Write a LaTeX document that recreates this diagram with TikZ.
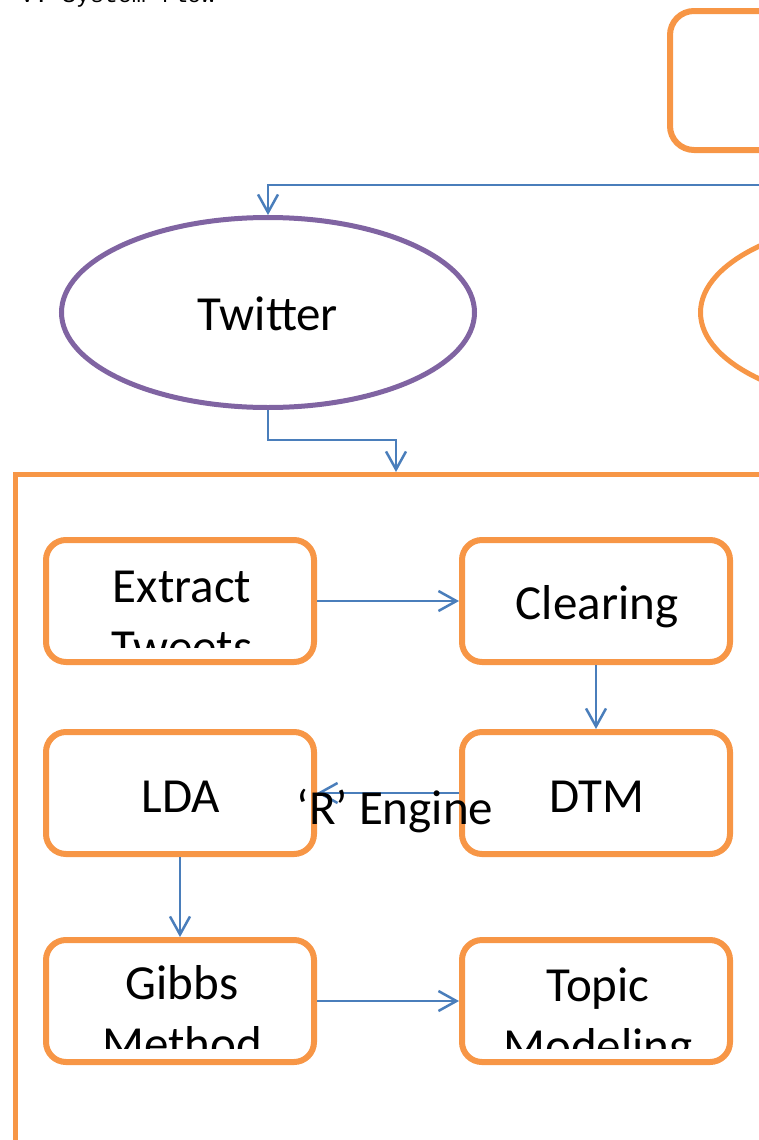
\documentclass[tikz,border=0pt]{standalone}
\usepackage{fontspec}
\setmainfont{Carlito}
\newfontfamily\monofont{Liberation Mono}
\usetikzlibrary{positioning,shapes.geometric,arrows.meta}
\definecolor{boxorange}{HTML}{F79646}
\definecolor{twpurple}{HTML}{8064A2}
\definecolor{linkblue}{HTML}{4A7EBB}

\begin{document}
\begin{tikzpicture}[x=0.5pt,y=-0.5pt]
		\tikzstyle{every node}+=[inner sep=0pt]
		\tikzstyle{stepbox}=[draw=boxorange, line width=3pt, rounded corners=10pt, minimum width=134pt, minimum height=61pt]
		\tikzstyle{boxtext}=[anchor=base, font=\fontsize{24.5}{29}\selectfont]
		\tikzstyle{flowline}=[draw=linkblue, line width=1.25pt, -{Straight Barb[length=9pt,width=10pt]}]
		\useasboundingbox (0,0) rectangle (759,1140);
		\node[anchor=base west, font=\monofont\fontsize{11.6}{14}\selectfont] (title) at (20,2.5) {V. System flow};
		\node[draw=boxorange, line width=3pt, rounded corners=12pt, minimum width=237pt, minimum height=69.5pt] (source) at (907,80.5) {};
		\node[ellipse, draw=twpurple, line width=2.5pt, minimum width=206.5pt, minimum height=95pt] (twitter) at (268,312.5) {};
		\node[ellipse, draw=boxorange, line width=2.5pt, minimum width=206.5pt, minimum height=95pt] (other) at (907,312.5) {};
		\node[draw=boxorange, line width=2.5pt, minimum width=380.5pt, minimum height=337.5pt] (engine) at (396,812) {};
		\node[stepbox] (extract) at (180,601) {};
		\node[stepbox] (clearing) at (596,601) {};
		\node[stepbox] (lda) at (180,793) {};
		\node[stepbox] (dtm) at (596,793) {};
		\node[stepbox] (gibbs) at (180,1001) {};
		\node[stepbox] (topic) at (596,1001) {};
		\draw[flowline] (source.south) -- (source.south |- 0,185) -| (twitter.north);
		\draw[flowline] (twitter.south) -- ++(0,30) -| (engine.north);
		\draw[flowline] (extract.east) -- (clearing.west);
		\draw[flowline] (clearing.south) -- (dtm.north);
		\draw[flowline] (dtm.west) -- (lda.east);
		\draw[flowline] (lda.south) -- (gibbs.north);
		\draw[flowline] (gibbs.east) -- (topic.west);
		\node[boxtext] (twittertxt) at (268,330) {Twitter};
		\node[boxtext] (extracttxt) at (182,602) {Extract};
		\node[boxtext] (clearingtxt) at (597,619) {Clearing};
		\node[boxtext] (ldatxt) at (181,812) {LDA};
		\node[boxtext] (dtmtxt) at (597,812) {DTM};
		\node[boxtext] (gibbstxt) at (182,999) {Gibbs};
		\node[boxtext] (topictxt) at (598,1001) {Topic};
		\begin{scope}
			\clip (0,0) rectangle (759,647);
			\node[boxtext] (tweetstxt) at (182,663) {Tweets};
		\end{scope}
		\begin{scope}
			\clip (0,0) rectangle (759,1048);
			\node[boxtext] (methodtxt) at (182,1060) {Method};
			\node[boxtext] (modelingtxt) at (598,1062) {Modeling};
		\end{scope}
		\node[boxtext] (enginetxt) at (395,824) {‘R’ Engine};
\end{tikzpicture}
\end{document}
